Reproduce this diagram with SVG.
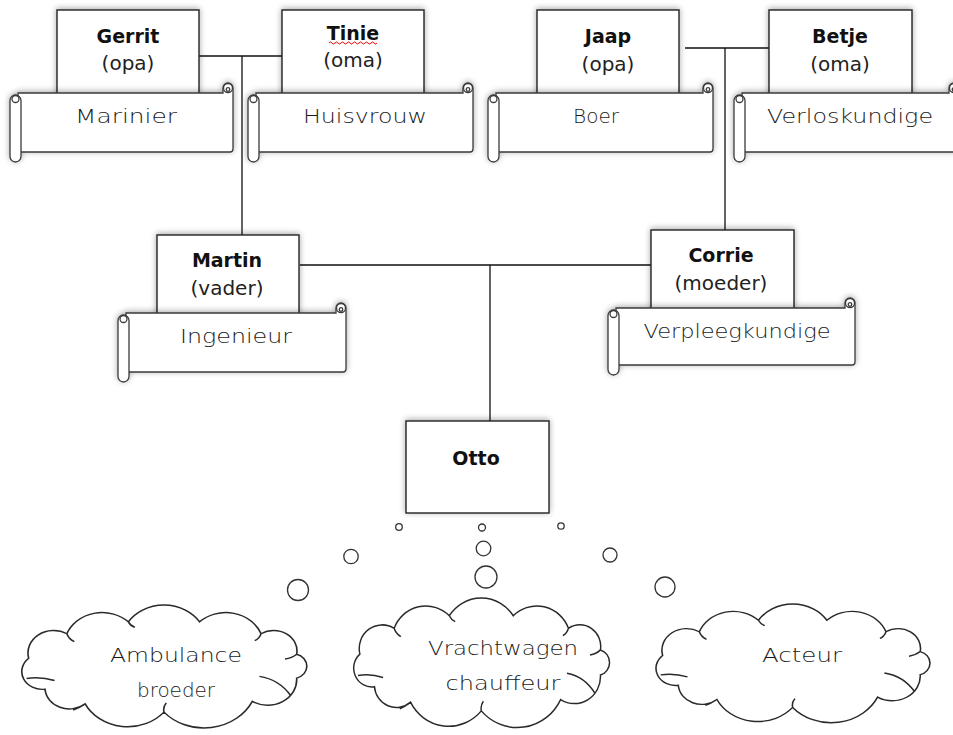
<svg xmlns="http://www.w3.org/2000/svg" xmlns:xlink="http://www.w3.org/1999/xlink" width="953" height="735" viewBox="0 0 953 735">
<defs>
<filter id="sh" x="-10%" y="-20%" width="120%" height="140%">
<feGaussianBlur in="SourceAlpha" stdDeviation="3"/>
<feOffset dx="0" dy="-1" result="b"/>
<feComponentTransfer><feFuncA type="linear" slope="0.35"/></feComponentTransfer>
<feMerge><feMergeNode/><feMergeNode in="SourceGraphic"/></feMerge>
</filter>
<path id="cloud" d="M37.8,82.5 A17.4,17.4 0 0 1 23.8,52.2 A22,22 0 0 1 56.6,28.2 A32.5,32.5 0 0 1 109.4,16.5 A36.7,36.7 0 0 1 170.6,16.5 A32.5,32.5 0 0 1 223.4,28.2 A20,20 0 0 1 254,48.3 A12.2,12.2 0 0 1 254,71.7 A25,25 0 0 1 215.9,94.5 A46,46 0 0 1 140,105 A41,41 0 0 1 72.3,96.9 A21,21 0 0 1 37.8,82.5 Z M22,72 Q34,70 46,74 M222,70 Q239,73 249,89 M62,103 Q67,101 72.3,96.9 M140,105 Q139,100 142,96 M56.6,28.2 Q58,33 63,36 M109.4,16.5 Q111,20 115,22 M223.4,28.2 Q222,33 218,35 M254,48.3 Q250,52 244,53"/>
</defs>
<style>
.box{fill:#fff;stroke:#222;stroke-width:1.4}
.scroll{fill:#fff;stroke:#3a3a3a;stroke-width:1.3}
.name{font-family:"DejaVu Sans",sans-serif;font-size:19px;font-weight:bold;fill:#111;text-anchor:middle}
.role{font-family:"DejaVu Sans",sans-serif;font-size:20px;fill:#222;text-anchor:middle}
.hand{font-family:"DejaVu Sans",sans-serif;font-weight:200;font-size:20px;fill:#1a1a1a;text-anchor:middle}
.line{fill:none;stroke:#111;stroke-width:1.3}
.cloud{fill:#fff;stroke:#2a2a2a;stroke-width:1.4;vector-effect:non-scaling-stroke}
.bub{fill:#fff;stroke:#333;stroke-width:1.3}
</style>
<rect width="953" height="735" fill="#fff"/>

<g id="connectors">
<path class="line" d="M199,56 H282 M242,56 V235"/>
<path class="line" d="M685,48 H769 M725,48 V230"/>
<path class="line" d="M300,265 H651 M490,265 V421"/>
</g>

<g id="gerrit">
<rect class="box" x="57" y="10" width="142" height="90" filter="url(#sh)"/>
<text class="name" x="128" y="43">Gerrit</text>
<text class="role" x="128" y="70">(opa)</text>
<g transform="translate(10,83)" filter="url(#sh)">
<path class="scroll" d="M8,10 H213 V5 A5,5 0 0 1 223,5 V66 Q223,69 220,69 H8 Z"/>
<circle class="scroll" cx="218" cy="5" r="4.5"/><circle class="scroll" cx="218" cy="6.5" r="1.8"/>
<rect class="scroll" x="0" y="12" width="11" height="67" rx="5.5"/>
<circle class="scroll" cx="5.5" cy="16" r="3.5"/>
</g>
<text class="hand" x="126" y="123" textLength="102" lengthAdjust="spacingAndGlyphs">Marinier</text>
</g>

<g id="tinie">
<rect class="box" x="282" y="10" width="142" height="90" filter="url(#sh)"/>
<text class="name" x="353" y="40">Tinie</text>
<path d="M329,43 q1.5,-2 3,0 t3,0 t3,0 t3,0 t3,0 t3,0 t3,0 t3,0 t3,0 t3,0 t3,0 t3,0 t3,0 t3,0 t3,0 t3,0" fill="none" stroke="#e00" stroke-width="1"/>
<text class="role" x="353" y="67">(oma)</text>
<g transform="translate(248,83)" filter="url(#sh)">
<path class="scroll" d="M8,10 H215 V5 A5,5 0 0 1 225,5 V66 Q225,69 222,69 H8 Z"/>
<circle class="scroll" cx="220" cy="5" r="4.5"/><circle class="scroll" cx="220" cy="6.5" r="1.8"/>
<rect class="scroll" x="0" y="12" width="11" height="67" rx="5.5"/>
<circle class="scroll" cx="5.5" cy="16" r="3.5"/>
</g>
<text class="hand" x="365" y="123" textLength="124" lengthAdjust="spacingAndGlyphs">Huisvrouw</text>
</g>

<g id="jaap">
<rect class="box" x="537" y="10" width="142" height="90" filter="url(#sh)"/>
<text class="name" x="608" y="43">Jaap</text>
<text class="role" x="608" y="71">(opa)</text>
<g transform="translate(488,83)" filter="url(#sh)">
<path class="scroll" d="M8,10 H215 V5 A5,5 0 0 1 225,5 V66 Q225,69 222,69 H8 Z"/>
<circle class="scroll" cx="220" cy="5" r="4.5"/><circle class="scroll" cx="220" cy="6.5" r="1.8"/>
<rect class="scroll" x="0" y="12" width="11" height="67" rx="5.5"/>
<circle class="scroll" cx="5.5" cy="16" r="3.5"/>
</g>
<text class="hand" x="596" y="123" textLength="46" lengthAdjust="spacingAndGlyphs">Boer</text>
</g>

<g id="betje">
<rect class="box" x="769" y="10" width="143" height="90" filter="url(#sh)"/>
<text class="name" x="840" y="43">Betje</text>
<text class="role" x="840" y="71">(oma)</text>
<g transform="translate(734,83)" filter="url(#sh)">
<path class="scroll" d="M8,10 H215 V5 A5,5 0 0 1 225,5 V66 Q225,69 222,69 H8 Z"/>
<circle class="scroll" cx="220" cy="5" r="4.5"/><circle class="scroll" cx="220" cy="6.5" r="1.8"/>
<rect class="scroll" x="0" y="12" width="11" height="67" rx="5.5"/>
<circle class="scroll" cx="5.5" cy="16" r="3.5"/>
</g>
<text class="hand" x="850" y="123" textLength="166" lengthAdjust="spacingAndGlyphs">Verloskundige</text>
</g>

<g id="martin">
<rect class="box" x="157" y="235" width="142" height="85" filter="url(#sh)"/>
<text class="name" x="227" y="267">Martin</text>
<text class="role" x="227" y="295">(vader)</text>
<g transform="translate(118,303)" filter="url(#sh)">
<path class="scroll" d="M8,10 H218 V5 A5,5 0 0 1 228,5 V66 Q228,69 225,69 H8 Z"/>
<circle class="scroll" cx="223" cy="5" r="4.5"/><circle class="scroll" cx="223" cy="6.5" r="1.8"/>
<rect class="scroll" x="0" y="12" width="11" height="67" rx="5.5"/>
<circle class="scroll" cx="5.5" cy="16" r="3.5"/>
</g>
<text class="hand" x="236" y="343" textLength="112" lengthAdjust="spacingAndGlyphs">Ingenieur</text>
</g>

<g id="corrie">
<rect class="box" x="651" y="230" width="143" height="85" filter="url(#sh)"/>
<text class="name" x="721" y="262">Corrie</text>
<text class="role" x="721" y="290">(moeder)</text>
<g transform="translate(608,298)" filter="url(#sh)">
<path class="scroll" d="M8,10 H237 V5 A5,5 0 0 1 247,5 V64 Q247,67 244,67 H8 Z"/>
<circle class="scroll" cx="242" cy="5" r="4.5"/><circle class="scroll" cx="242" cy="6.5" r="1.8"/>
<rect class="scroll" x="0" y="12" width="11" height="65" rx="5.5"/>
<circle class="scroll" cx="5.5" cy="16" r="3.5"/>
</g>
<text class="hand" x="737" y="338" textLength="187" lengthAdjust="spacingAndGlyphs">Verpleegkundige</text>
</g>

<g id="otto">
<rect class="box" x="406" y="421" width="143" height="92" filter="url(#sh)"/>
<text class="name" x="476" y="465">Otto</text>
</g>

<g id="bubbles">
<circle class="bub" cx="399" cy="527" r="3.3"/>
<circle class="bub" cx="482" cy="527.5" r="3.5"/>
<circle class="bub" cx="561" cy="526" r="3.2"/>
<circle class="bub" cx="351" cy="556.5" r="7.2"/>
<circle class="bub" cx="483.5" cy="548.5" r="7.3"/>
<circle class="bub" cx="610" cy="555" r="7"/>
<circle class="bub" cx="298" cy="590" r="10.5"/>
<circle class="bub" cx="486" cy="577" r="11"/>
<circle class="bub" cx="665" cy="587" r="10"/>
</g>

<g id="cloud-ambulance">
<use xlink:href="#cloud" class="cloud" transform="translate(1,605) scale(1.164,1.02)"/>
<text class="hand" x="176" y="662" textLength="132" lengthAdjust="spacingAndGlyphs">Ambulance</text>
<text class="hand" x="176" y="697" textLength="78" lengthAdjust="spacingAndGlyphs">broeder</text>
</g>

<g id="cloud-vrachtwagen">
<use xlink:href="#cloud" class="cloud" transform="translate(335,598) scale(1.045,1.075)"/>
<text class="hand" x="503" y="655" textLength="150" lengthAdjust="spacingAndGlyphs">Vrachtwagen</text>
<text class="hand" x="503" y="690" textLength="115" lengthAdjust="spacingAndGlyphs">chauffeur</text>
</g>

<g id="cloud-acteur">
<use xlink:href="#cloud" class="cloud" transform="translate(636,604) scale(1.119,0.985)"/>
<text class="hand" x="802" y="662" textLength="80" lengthAdjust="spacingAndGlyphs">Acteur</text>
</g>
</svg>
